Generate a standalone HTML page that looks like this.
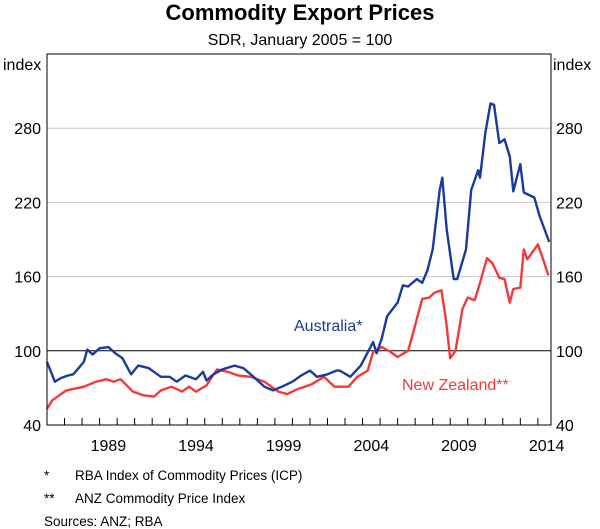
<!DOCTYPE html>
<html><head><meta charset="utf-8"><style>
body{margin:0;background:#fff;}
svg{display:block;font-family:"Liberation Sans",Arial,sans-serif;}
</style></head><body>
<svg id="c" width="600" height="529">
<text x="300" y="20" text-anchor="middle" font-size="22" font-weight="bold">Commodity Export Prices</text>
<text x="300" y="45" text-anchor="middle" font-size="16">SDR, January 2005 = 100</text>
<text x="3" y="70" font-size="16">index</text>
<text x="553" y="70" font-size="16">index</text>
<g id="grid"></g><g id="series"></g>
<rect x="47" y="54" width="504" height="371" fill="none" stroke="#000" stroke-width="1"/>
<g id="axes"></g>
<text x="294" y="331" font-size="16" fill="#1a3a9c">Australia*</text>
<text x="402" y="390" font-size="16" fill="#f23a3a">New Zealand**</text>
<text x="44" y="480" font-size="13.5">*</text>
<text x="75" y="480" font-size="13.5">RBA Index of Commodity Prices (ICP)</text>
<text x="44" y="503" font-size="13.5">**</text>
<text x="75" y="503" font-size="13.5">ANZ Commodity Price Index</text>
<text x="44" y="526" font-size="13.5">Sources:  ANZ; RBA</text>
</svg>
<script>
const yTicks=[40,100,160,220,280];
const xLabels=[1989,1994,1999,2004,2009,2014];
const ausYears=[1986.0,1986.45,1986.8,1987.2,1987.5,1987.8,1988.1,1988.3,1988.6,1989.0,1989.5,1989.9,1990.3,1990.8,1991.2,1991.8,1992.5,1993.0,1993.4,1993.9,1994.5,1994.9,1995.1,1995.5,1996.0,1996.7,1997.2,1997.7,1998.4,1998.9,1999.4,2000.0,2000.5,2001.0,2001.4,2002.0,2002.5,2002.7,2003.3,2003.9,2004.6,2004.8,2005.1,2005.4,2006.0,2006.3,2006.6,2007.1,2007.4,2007.7,2008.0,2008.4,2008.55,2008.8,2009.2,2009.4,2009.9,2010.2,2010.6,2010.7,2011.0,2011.3,2011.5,2011.8,2012.1,2012.4,2012.6,2013.0,2013.2,2013.8,2014.1,2014.65];
const ausValues=[91,75,78,80,81,86,91,101,97,102,103,98,94,81,88,86,79,79,75,80,77,83,76,81,85,88,86,80,71,68,71,75,80,84,79,81,84,84,79,88,107,98,110,128,139,153,152,158,155,165,182,230,240,198,158,158,182,230,246,240,276,300,299,268,271,257,229,251,228,224,209,188];
const nzYears=[1986.0,1986.3,1987.1,1988.1,1988.8,1989.4,1989.8,1990.2,1990.9,1991.5,1992.1,1992.5,1993.1,1993.7,1994.1,1994.5,1995.1,1995.7,1996.3,1996.9,1997.6,1998.4,1999.2,1999.7,2000.3,2001.1,2001.8,2002.4,2003.2,2003.7,2004.3,2004.6,2005.1,2005.6,2006.0,2006.6,2006.8,2007.4,2007.8,2008.1,2008.5,2008.75,2009.0,2009.3,2009.7,2010.0,2010.4,2010.7,2011.1,2011.4,2011.8,2012.1,2012.4,2012.6,2013.0,2013.2,2013.4,2014.0,2014.3,2014.6];
const nzValues=[53,60,68,71,75,77,75,77,67,64,63,68,71,67,71,67,72,85,83,80,79,75,67,65,69,73,79,71,71,79,84,99,103,99,95,100,110,142,143,147,149,126,94,100,134,143,141,155,175,171,159,158,139,150,151,182,174,186,174,161];
const NS='http://www.w3.org/2000/svg';
const X0=47,X1=551,Y0=425,Y1=54;
const xs=y=>X0+(y-1986)*(X1-X0)/28.75;
const ys=v=>Y0-(v-40)*(Y0-Y1)/300;
function mk(t,a,p){const e=document.createElementNS(NS,t);for(const k in a)e.setAttribute(k,a[k]);p.appendChild(e);return e;}
const grid=document.getElementById('grid'),axes=document.getElementById('axes'),ser=document.getElementById('series');
yTicks.forEach(v=>{
 if(v>40&&v!==100){const l=mk('line',{x1:X0,x2:X1,y1:ys(v),y2:ys(v),stroke:'#c8c8c8','stroke-width':1},grid);
 
 }
 const a=mk('text',{x:41,y:ys(v)+6,'text-anchor':'end','font-size':16},axes);a.textContent=v;
 
 
 const b=mk('text',{x:556,y:ys(v)+6,'font-size':16},axes);b.textContent=v;
 
 
});
const base=mk('line',{x1:X0,x2:X1,y1:ys(100),y2:ys(100),stroke:'#000','stroke-width':1},grid);


for(let yr=1987;yr<=2014;yr++){const t=mk('line',{x1:xs(yr),x2:xs(yr),y1:Y0,y2:Y0-7,stroke:'#000'},axes);
 
 }
xLabels.forEach(yr=>{const t=mk('text',{x:xs(yr+0.5),y:451,'text-anchor':'middle','font-size':16},axes);t.textContent=yr;
 
 });
function line(xsArr,vs,col,name){const d=xsArr.map((y,i)=>(i?'L':'M')+xs(y).toFixed(1)+','+ys(vs[i]).toFixed(1)).join('');
 const p=mk('path',{d:d,fill:'none',stroke:col,'stroke-width':2.4,'stroke-linejoin':'round'},ser);
 
 }
line(nzYears,nzValues,'#f23a3a','new-zealand-line');
line(ausYears,ausValues,'#1a3a9c','australia-line');
</script>
</body></html>
